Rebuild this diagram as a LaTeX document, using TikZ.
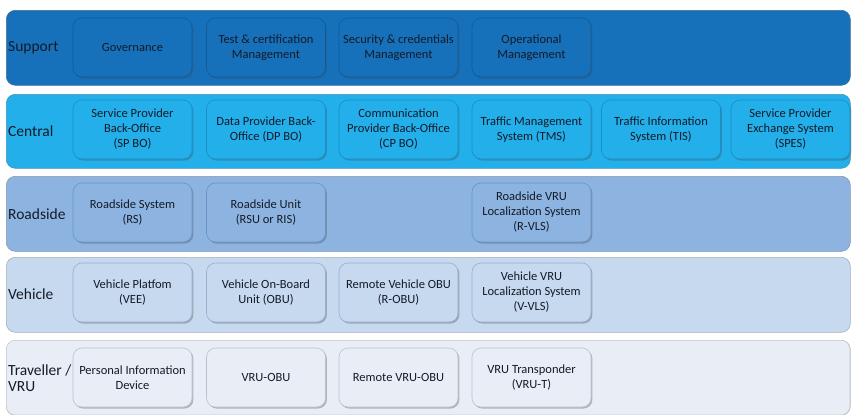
\documentclass[tikz,border=0pt]{standalone}
\usepackage{fontspec}
\setmainfont{Carlito}
\usetikzlibrary{shadows}
\definecolor{supc}{HTML}{1670BA}
\definecolor{supd}{HTML}{0F5A9A}
\definecolor{cenc}{HTML}{22AFEA}
\definecolor{cend}{HTML}{1690C8}
\definecolor{roac}{HTML}{8DB4E0}
\definecolor{road}{HTML}{6A92C2}
\definecolor{vehc}{HTML}{C6D9EF}
\definecolor{vehd}{HTML}{97AFCB}
\definecolor{trac}{HTML}{E9EEF6}
\definecolor{trad}{HTML}{B8C2CF}
\definecolor{txt}{HTML}{141B28}
\begin{document}
\begin{tikzpicture}[x=1pt,y=-1pt,
  band/.style={draw=#1!70!black!80, line width=0.6pt, rounded corners=9pt, anchor=north west, inner sep=0pt},
  unit/.style={draw=#1, line width=0.6pt, rounded corners=9pt, minimum width=119pt, minimum height=59pt,
    inner sep=1pt, align=center, font=\fontsize{12.5}{15}\selectfont, text=txt,
    drop shadow={shadow xshift=1.4pt, shadow yshift=-1.6pt, opacity=0.35, fill=black!70}},
  lbl/.style={anchor=west, align=left, font=\fontsize{15.5}{16.5}\selectfont, text=txt, inner sep=0pt}]
\useasboundingbox (0,0) rectangle (852,415);
% bands
\node[band=supc, fill=supc, minimum width=844pt, minimum height=75pt] (bs) at (6,10) {};
\node[band=cenc, fill=cenc, minimum width=844pt, minimum height=74pt] (bc) at (6,94) {};
\node[band=roac, fill=roac, minimum width=844pt, minimum height=75pt] (br) at (6,176) {};
\node[band=vehc, fill=vehc, minimum width=844pt, minimum height=75pt] (bv) at (6,257) {};
\node[band=trac, fill=trad!60, minimum width=844pt, minimum height=75pt] (bt) at (6,340) {};
\fill[trac, rounded corners=8.5pt] (6.6,340.6) rectangle (849.4,414.4);
% labels
\node[lbl] (ls) at (8,48) {Support};
\node[lbl] (lc) at (8,131) {Central};
\node[lbl] (lr) at (8,214) {Roadside};
\node[lbl] (lv) at (8,294) {Vehicle};
\node[lbl] (lt) at (8,378) {Traveller /\\VRU};
% support
\node[unit=supd, fill=supc] (s1) at (132.5,47.5) {Governance};
\node[unit=supd, fill=supc] (s2) at (266,47.5) {Test \& certification\\Management};
\node[unit=supd, fill=supc] (s3) at (398.5,47.5) {Security \& credentials\\Management};
\node[unit=supd, fill=supc] (s4) at (531.5,47.5) {Operational\\Management};
% central
\node[unit=cend, fill=cenc] (c1) at (132.5,129.5) {Service Provider\\Back-Office\\(SP BO)};
\node[unit=cend, fill=cenc] (c2) at (266,129.5) {Data Provider Back-\\Office (DP BO)};
\node[unit=cend, fill=cenc] (c3) at (398.5,129.5) {Communication\\Provider Back-Office\\(CP BO)};
\node[unit=cend, fill=cenc] (c4) at (531.5,129.5) {Traffic Management\\System (TMS)};
\node[unit=cend, fill=cenc] (c5) at (661,129.5) {Traffic Information\\System (TIS)};
\node[unit=cend, fill=cenc] (c6) at (790.5,129.5) {Service Provider\\Exchange System\\(SPES)};
% roadside
\node[unit=road, fill=roac] (r1) at (132.5,212.5) {Roadside System\\(RS)};
\node[unit=road, fill=roac] (r2) at (266,212.5) {Roadside Unit\\(RSU or RIS)};
\node[unit=road, fill=roac] (r4) at (531.5,212.5) {Roadside VRU\\Localization System\\(R-VLS)};
% vehicle
\node[unit=vehd, fill=vehc] (v1) at (132.5,292.5) {Vehicle Platfom\\(VEE)};
\node[unit=vehd, fill=vehc] (v2) at (266,292.5) {Vehicle On-Board\\Unit (OBU)};
\node[unit=vehd, fill=vehc] (v3) at (398.5,292.5) {Remote Vehicle OBU\\(R-OBU)};
\node[unit=vehd, fill=vehc] (v4) at (531.5,292.5) {Vehicle VRU\\Localization System\\(V-VLS)};
% traveller
\node[unit=trad, fill=trac] (t1) at (132.5,377.5) {Personal Information\\Device};
\node[unit=trad, fill=trac] (t2) at (266,377.5) {VRU-OBU};
\node[unit=trad, fill=trac] (t3) at (398.5,377.5) {Remote VRU-OBU};
\node[unit=trad, fill=trac] (t4) at (531.5,377.5) {VRU Transponder\\(VRU-T)};
\end{tikzpicture}
\end{document}
